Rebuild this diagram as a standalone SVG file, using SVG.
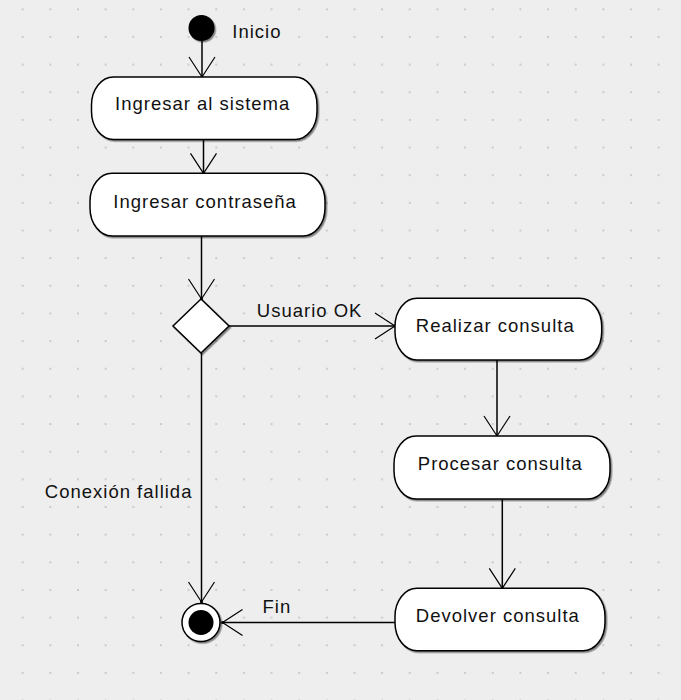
<svg xmlns="http://www.w3.org/2000/svg" width="681" height="700" viewBox="0 0 681 700">
  <defs>
    <pattern id="grid" x="21.7" y="8.3" width="27.65" height="27.65" patternUnits="userSpaceOnUse">
      <rect x="0" y="0" width="2" height="2" fill="#cbcbcb"/>
    </pattern>
    <filter id="shadow" x="-10%" y="-10%" width="125%" height="130%">
      <feDropShadow dx="1.5" dy="1.5" stdDeviation="0.7" flood-color="#000" flood-opacity="0.45"/>
    </filter>
    <marker id="open" markerUnits="userSpaceOnUse" markerWidth="30" markerHeight="30" refX="0" refY="0" orient="auto" overflow="visible">
      <path d="M-20,-13 L0,0 L-20,13" fill="none" stroke="#000" stroke-width="1.2"/>
      <circle cx="0" cy="0" r="1.5" fill="#000"/>
    </marker>
    <style>
      .act { fill: #fff; stroke: #000; stroke-width: 1.5; filter: url(#shadow); }
      .lbl { font-family: "Liberation Sans", Arial, sans-serif; font-size: 18.5px; letter-spacing: 1px; fill: #111; }
      .edge { fill: none; stroke: #000; stroke-width: 1.5; marker-end: url(#open); }
    </style>
  </defs>

  <!-- canvas with dotted grid -->
  <rect x="0" y="0" width="681" height="700" fill="#eeeeee"/>
  <rect x="0" y="0" width="681" height="700" fill="url(#grid)"/>

  <!-- connectors -->
  <g id="connectors">
    <path class="edge" d="M202,41 L202,77"/>
    <path class="edge" d="M203.5,139.5 L203.5,173.3"/>
    <path class="edge" d="M201.5,236 L201.5,299"/>
    <path class="edge" d="M229,326 L395,326"/>
    <path class="edge" d="M497,360 L497,436"/>
    <path class="edge" d="M502.3,499 L502.3,588.3"/>
    <path class="edge" d="M395,622.5 L222.5,622.5"/>
    <path class="edge" d="M201.5,353 L201.5,602"/>
    <text class="lbl" x="256.8" y="316.7">Usuario OK</text>
    <text class="lbl" x="44.8" y="497.7">Conexión fallida</text>
    <text class="lbl" x="262.5" y="613.3">Fin</text>
  </g>

  <!-- initial node -->
  <g id="inicio">
    <circle cx="201.5" cy="28" r="13" fill="#000" filter="url(#shadow)"/>
    <text class="lbl" x="232.3" y="38.3">Inicio</text>
  </g>

  <!-- actions -->
  <g id="ingresar-sistema">
    <rect class="act" x="91.5" y="77" width="225.5" height="62.5" rx="22" ry="28"/>
    <text class="lbl" x="115" y="110">Ingresar al sistema</text>
  </g>

  <g id="ingresar-contrasena">
    <rect class="act" x="90" y="173.3" width="235" height="62.7" rx="22" ry="28"/>
    <text class="lbl" x="113.3" y="208.3">Ingresar contraseña</text>
  </g>

  <!-- decision -->
  <g id="decision">
    <polygon class="act" points="201,299 229,326 201,353 173,326"/>
  </g>

  <g id="realizar-consulta">
    <rect class="act" x="395" y="298.3" width="206.7" height="61.7" rx="22" ry="28"/>
    <text class="lbl" x="415.8" y="331.7">Realizar consulta</text>
  </g>

  <g id="procesar-consulta">
    <rect class="act" x="394" y="436" width="216" height="63" rx="22" ry="28"/>
    <text class="lbl" x="417.8" y="470">Procesar consulta</text>
  </g>

  <g id="devolver-consulta">
    <rect class="act" x="395" y="588.3" width="210" height="62.4" rx="22" ry="28"/>
    <text class="lbl" x="415.8" y="621.7">Devolver consulta</text>
  </g>

  <!-- final node -->
  <g id="fin">
    <circle cx="201" cy="622.5" r="19" fill="#fff" stroke="#000" stroke-width="1.5" filter="url(#shadow)"/>
    <circle cx="201" cy="622.5" r="12.5" fill="#000"/>
  </g>
</svg>
